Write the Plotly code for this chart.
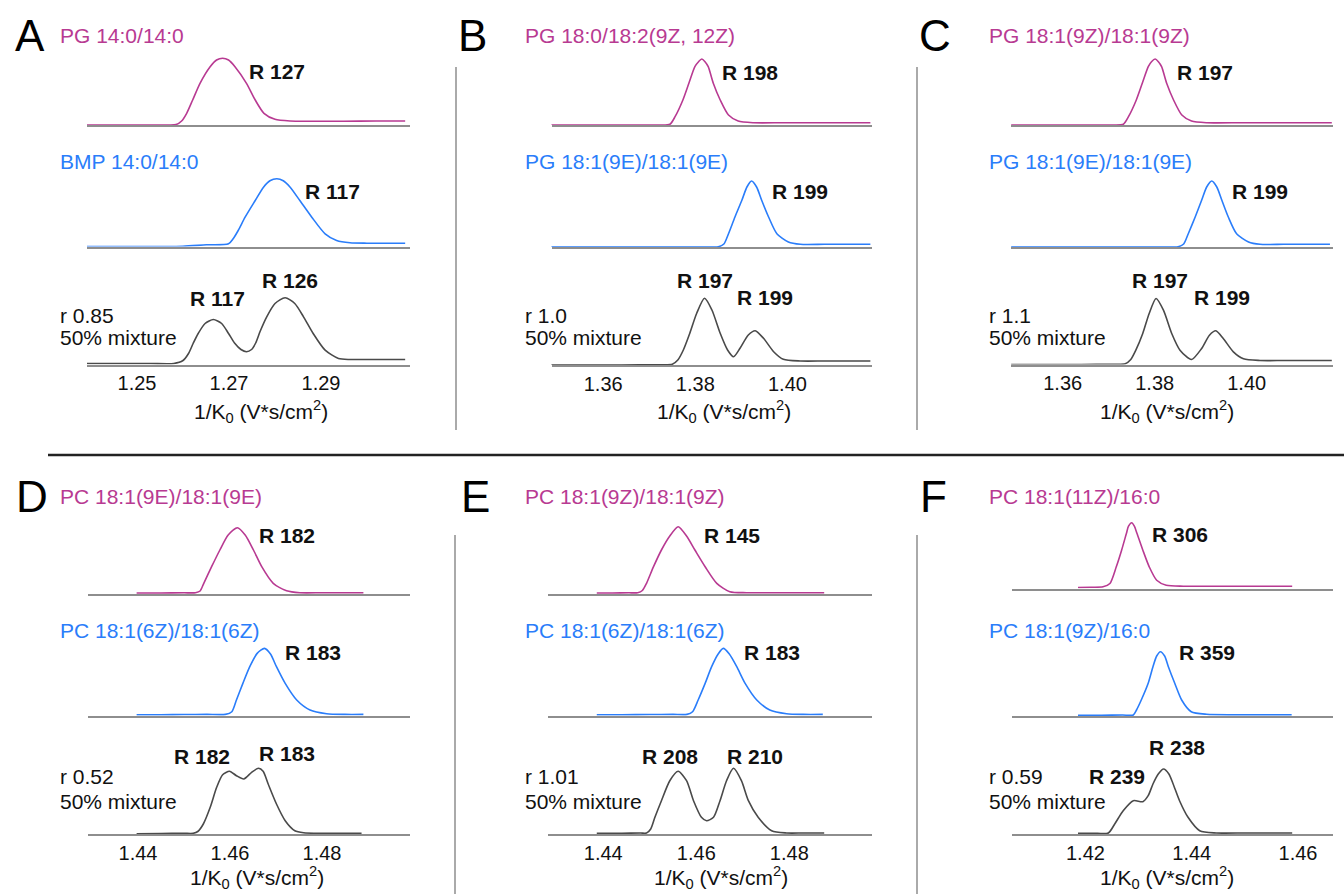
import plotly.graph_objects as go

W, H = 1344, 894

# ---------------------------------------------------------------- data
panel_letters = ["A", "B", "C", "D", "E", "F"]

top_names = ["PG 14:0/14:0", "PG 18:0/18:2(9Z, 12Z)", "PG 18:1(9Z)/18:1(9Z)",
             "PC 18:1(9E)/18:1(9E)", "PC 18:1(9Z)/18:1(9Z)", "PC 18:1(11Z)/16:0"]
mid_names = ["BMP 14:0/14:0", "PG 18:1(9E)/18:1(9E)", "PG 18:1(9E)/18:1(9E)",
             "PC 18:1(6Z)/18:1(6Z)", "PC 18:1(6Z)/18:1(6Z)", "PC 18:1(9Z)/16:0"]
r_values = ["0.85", "1.0", "1.1", "0.52", "1.01", "0.59"]

# resolving power labels: top, middle, mixture peak 1, mixture peak 2
top_R = [127, 198, 197, 182, 145, 306]
mid_R = [117, 199, 199, 183, 183, 359]
mix_R1 = [117, 197, 197, 182, 208, 239]
mix_R2 = [126, 199, 199, 183, 210, 238]

x_ranges = [[1.23913, 1.30935], [1.34878, 1.41835], [1.34876, 1.41876],
            [1.42913, 1.49913], [1.42811, 1.49778], [1.40608, 1.46658]]
tick_vals = [[1.25, 1.27, 1.29], [1.36, 1.38, 1.40], [1.36, 1.38, 1.40],
             [1.44, 1.46, 1.48], [1.44, 1.46, 1.48], [1.42, 1.44, 1.46]]
tick_text = [["1.25", "1.27", "1.29"], ["1.36", "1.38", "1.40"], ["1.36", "1.38", "1.40"],
             ["1.44", "1.46", "1.48"], ["1.44", "1.46", "1.48"], ["1.42", "1.44", "1.46"]]

# mobilograms: 1/K0 and intensity (a.u.)
A_top_x = [1.2391, 1.2450, 1.2510, 1.2570, 1.2585, 1.2597, 1.2608, 1.2621, 1.2637, 1.2659,
           1.2673, 1.2686, 1.2699, 1.2713, 1.2738, 1.2757, 1.2776, 1.2800, 1.2833, 1.2880,
           1.2950, 1.3020, 1.3083]
A_top_y = [0, 0, 0, 0, 0.5, 4, 11.7, 25, 41.7, 58.3, 65, 66.7, 65, 58.3, 41.7, 25, 11.7,
           5.7, 4, 3.8, 3.8, 4, 4]
A_mid_x = [1.2391, 1.2460, 1.2530, 1.2600, 1.2651, 1.2699, 1.2709, 1.2720, 1.2735, 1.2757,
           1.2775, 1.2789, 1.2804, 1.2818, 1.2833, 1.2854, 1.2880, 1.2909, 1.2934, 1.2963,
           1.3000, 1.3040, 1.3083]
A_mid_y = [0, 0, 0, 0.3, 1.7, 2.7, 7.7, 16, 29.3, 46, 59.3, 65.7, 67.7, 65.7, 59.3, 46,
           29.3, 12.7, 6, 3.7, 3.3, 3.3, 3.3]
A_mix_x = [1.2391, 1.2460, 1.2530, 1.2580, 1.2600, 1.2612, 1.2622, 1.2633, 1.2648, 1.2666,
           1.2684, 1.2699, 1.2712, 1.2726, 1.2738, 1.2749, 1.2758, 1.2768, 1.2782, 1.2800,
           1.2822, 1.2843, 1.2862, 1.2883, 1.2909, 1.2938, 1.2963, 1.3000, 1.3040, 1.3083]
A_mix_y = [1, 1, 1, 1, 4, 11, 21, 31, 41, 45, 41, 31, 21.5, 15, 12.7, 15, 21.5, 33.5, 47.7,
           61, 66.7, 61, 47.7, 31, 14.3, 6, 5, 5, 5, 5]

B_top_x = [1.3486, 1.3560, 1.3640, 1.3720, 1.3745, 1.3756, 1.3773, 1.3786, 1.3799, 1.3807,
           1.3814, 1.3821, 1.3828, 1.3839, 1.3854, 1.3872, 1.3893, 1.3926, 1.3990, 1.4080,
           1.4180]
B_top_y = [0, 0, 0, 0, 0.8, 8.3, 25, 41.7, 58.3, 63.3, 66, 63.3, 58.3, 41.7, 25, 10, 4,
           2.3, 2.3, 2.3, 2.3]
B_mid_x = [1.3486, 1.3560, 1.3640, 1.3720, 1.3800, 1.3850, 1.3862, 1.3872, 1.3886, 1.3901,
           1.3912, 1.3922, 1.3933, 1.3944, 1.3959, 1.3977, 1.4002, 1.4028, 1.4080, 1.4130,
           1.4180]
B_mid_y = [0, 0, 0, 0, 0, 0.3, 3, 13.3, 30, 46.7, 60, 66, 60, 46.7, 30, 13.3, 5, 2.7, 2.7,
           2.7, 2.7]
B_mix_x = [1.3486, 1.3560, 1.3640, 1.3720, 1.3750, 1.3762, 1.3774, 1.3788, 1.3803, 1.3820,
           1.3836, 1.3854, 1.3870, 1.3883, 1.3897, 1.3915, 1.3930, 1.3948, 1.3970, 1.3991,
           1.4028, 1.4080, 1.4130, 1.4180]
B_mix_y = [0, 0, 0, 0.3, 0.8, 5, 15, 31.7, 51.7, 66.7, 55, 31.7, 15, 8.3, 16.7, 30, 34.3,
           26.7, 13.3, 5.7, 4, 4, 4, 4]

C_top_x = [1.3488, 1.3560, 1.3640, 1.3710, 1.3732, 1.3743, 1.3760, 1.3773, 1.3786, 1.3793,
           1.3801, 1.3808, 1.3815, 1.3826, 1.3841, 1.3859, 1.3880, 1.3913, 1.3990, 1.4090,
           1.4185]
C_top_y = [0, 0, 0, 0, 0.8, 8.3, 25, 41.7, 58.3, 63.3, 66, 63.3, 58.3, 41.7, 25, 10, 4,
           2.3, 2.3, 2.3, 2.3]
C_mid_x = [1.3488, 1.3560, 1.3640, 1.3720, 1.3800, 1.3851, 1.3863, 1.3873, 1.3888, 1.3902,
           1.3913, 1.3924, 1.3935, 1.3946, 1.3960, 1.3978, 1.4004, 1.4029, 1.4080, 1.4130,
           1.4181]
C_mid_y = [0, 0, 0, 0, 0, 0.3, 3, 13.3, 30, 46.7, 60, 66, 60, 46.7, 30, 13.3, 5, 2.7, 2.7,
           2.7, 2.7]
C_mix_x = [1.3488, 1.3560, 1.3640, 1.3710, 1.3736, 1.3748, 1.3759, 1.3774, 1.3788, 1.3803,
           1.3819, 1.3837, 1.3855, 1.3880, 1.3902, 1.3919, 1.3933, 1.3949, 1.3971, 1.3993,
           1.4029, 1.4080, 1.4130, 1.4185]
C_mix_y = [0, 0, 0, 0.3, 0.8, 5, 14.3, 31, 51, 66, 54.3, 31, 14.3, 5, 16, 29.3, 33.7, 26,
           12.7, 5.7, 4, 4, 4, 4]

D_top_x = [1.4397, 1.4450, 1.4500, 1.4525, 1.4535, 1.4543, 1.4560, 1.4578, 1.4596, 1.4616,
           1.4633, 1.4651, 1.4669, 1.4694, 1.4723, 1.4752, 1.4800, 1.4850, 1.4890]
D_top_y = [1, 1, 1.2, 1.3, 3, 10.7, 27.3, 44, 59, 66.3, 59, 44, 27.3, 10.7, 3.3, 1.3, 1.3,
           1.3, 1.3]
D_mid_x = [1.4397, 1.4450, 1.4500, 1.4550, 1.4590, 1.4604, 1.4614, 1.4628, 1.4643, 1.4659,
           1.4675, 1.4688, 1.4701, 1.4720, 1.4745, 1.4774, 1.4810, 1.4850, 1.4890]
D_mid_y = [1, 1, 1.2, 1.3, 1.3, 4, 15.7, 32.3, 49, 62.3, 67.3, 61.7, 49, 32.3, 15.7, 5.7,
           2, 1.3, 1.3]
D_mix_x = [1.4397, 1.4450, 1.4500, 1.4520, 1.4530, 1.4542, 1.4557, 1.4571, 1.4584, 1.4599,
           1.4614, 1.4630, 1.4647, 1.4662, 1.4672, 1.4683, 1.4701, 1.4720, 1.4741, 1.4760,
           1.4800, 1.4850, 1.4886]
D_mix_y = [0.3, 0.5, 0.7, 0.7, 2.5, 10, 26.7, 46.7, 59.3, 62.7, 58.3, 55, 61.7, 65.7, 62.7,
           50, 30, 13.3, 3.3, 1.3, 0.7, 0.7, 0.7]

E_top_x = [1.4386, 1.4420, 1.4455, 1.4474, 1.4484, 1.4493, 1.4508, 1.4525, 1.4543, 1.4561,
           1.4579, 1.4597, 1.4619, 1.4644, 1.4672, 1.4708, 1.4760, 1.4820, 1.4875]
E_top_y = [1, 1, 1.2, 1.3, 3.5, 10.7, 27.3, 44, 58, 67.3, 58, 44, 27.3, 10.7, 2.3, 1.3, 1.3,
           1.3, 1.3]
E_mid_x = [1.4386, 1.4440, 1.4500, 1.4550, 1.4580, 1.4592, 1.4604, 1.4619, 1.4633, 1.4647,
           1.4658, 1.4671, 1.4687, 1.4705, 1.4730, 1.4758, 1.4794, 1.4830, 1.4872]
E_mid_y = [1, 1, 1.2, 1.3, 1.3, 4, 15.7, 32.3, 49, 61.7, 67.3, 61.7, 49, 32.3, 15.7, 5.7, 2,
           1.3, 1.3]
E_mix_x = [1.4386, 1.4440, 1.4480, 1.4493, 1.4502, 1.4511, 1.4525, 1.4543, 1.4561, 1.4579,
           1.4594, 1.4611, 1.4622, 1.4637, 1.4651, 1.4665, 1.4680, 1.4697, 1.4712, 1.4733,
           1.4762, 1.4794, 1.4830, 1.4875]
E_mix_y = [0.7, 0.8, 1, 1, 5, 16.7, 33.3, 53.3, 62.7, 53.3, 33.3, 16.7, 13.3, 16.7, 33.3,
           53.3, 65.7, 53.3, 33.3, 16.7, 3.3, 1, 1, 1]

F_top_x = [1.4186, 1.4210, 1.4233, 1.4246, 1.4258, 1.4268, 1.4277, 1.4281, 1.4287, 1.4292,
           1.4297, 1.4308, 1.4320, 1.4334, 1.4352, 1.4384, 1.4440, 1.4510, 1.4589]
F_top_y = [1, 1.3, 1.7, 5, 21.7, 38.3, 55, 62.3, 65.7, 62.3, 55, 38.3, 21.7, 8.3, 3.3, 2.3,
           2.3, 2.3, 2.3]
F_mid_x = [1.4186, 1.4230, 1.4270, 1.4290, 1.4296, 1.4305, 1.4318, 1.4327, 1.4334, 1.4341,
           1.4349, 1.4356, 1.4368, 1.4381, 1.4399, 1.4428, 1.4480, 1.4530, 1.4588]
F_mid_y = [0.7, 0.8, 1, 1, 6, 16, 32.7, 49.3, 60, 64.3, 60, 49.3, 32.7, 16, 4.3, 1.7, 1.3,
           1.3, 1.3]
F_mix_x = [1.4186, 1.4215, 1.4243, 1.4255, 1.4271, 1.4290, 1.4308, 1.4318, 1.4327, 1.4337,
           1.4347, 1.4357, 1.4365, 1.4377, 1.4393, 1.4415, 1.4446, 1.4500, 1.4550, 1.4589]
F_mix_y = [0.7, 0.8, 1, 10, 23.3, 33.3, 32.3, 38.3, 50, 60, 65, 60, 50, 33.3, 16.7, 3.3, 1,
           1, 1, 1]

curves = [
    [(A_top_x, A_top_y), (A_mid_x, A_mid_y), (A_mix_x, A_mix_y)],
    [(B_top_x, B_top_y), (B_mid_x, B_mid_y), (B_mix_x, B_mix_y)],
    [(C_top_x, C_top_y), (C_mid_x, C_mid_y), (C_mix_x, C_mix_y)],
    [(D_top_x, D_top_y), (D_mid_x, D_mid_y), (D_mix_x, D_mix_y)],
    [(E_top_x, E_top_y), (E_mid_x, E_mid_y), (E_mix_x, E_mix_y)],
    [(F_top_x, F_top_y), (F_mid_x, F_mid_y), (F_mix_x, F_mix_y)],
]

# ---------------------------------------------------------------- layout geometry (pixels)
axis_px = [(87, 410), (551.5, 872), (1011, 1333), (88, 410), (548, 872), (1011.5, 1333)]
baseline_px = [(125, 246.5, 364.5), (125, 247, 365), (125, 247, 364.5),
               (594, 715.7, 834), (594, 715.7, 834), (588.5, 716, 834)]
ROW_H = 80  # pixel height of each trace strip; intensity scale 0..80

letter_pos = [(13, 35), (456, 35), (917, 35), (14, 497), (459, 497), (918, 496)]
name_x = [58, 523, 987, 58, 523, 987]
top_name_y = [36, 36, 36, 497, 497, 497]
mid_name_y = [161, 162, 162, 630, 630, 630]
r_text_y = [315, 315, 315, 776, 776, 776]
mix_text_y = [338, 338, 338, 801, 801, 801]
top_R_pos = [(247, 71.5), (720, 72), (1175, 72), (257, 535), (702, 535), (1150, 534)]
mid_R_pos = [(303, 191), (770, 191), (1230, 191), (283, 652), (742, 652), (1177, 652)]
mix_R1_pos = [(188, 298.5), (675, 280), (1130, 280), (172, 756), (640, 756), (1087, 776)]
mix_R2_pos = [(260, 280), (735, 298), (1192, 298), (257, 753), (725, 756), (1147, 747)]
xtitle_pos = [(261, 411), (724, 411), (1167, 411), (257, 877), (721, 877), (1167, 877)]

MAGENTA = "#B83A92"
BLUE = "#2A7DFA"
DARK = "#4A4A4A"
AXIS_GRAY = "#8E8E8E"
TEXT = "#111111"
FONT = "Liberation Sans, Arial, sans-serif"
LABEL_SIZE = 21


def fx(px):
    return px / W


def fy(py):
    return 1 - py / H


fig = go.Figure()
layout_axes = {}
annotations = []


def note(text, px, py, size=LABEL_SIZE, color=TEXT, xanchor="left"):
    annotations.append(dict(
        text=text, x=fx(px), y=fy(py), xref="paper", yref="paper",
        xanchor=xanchor, yanchor="middle", showarrow=False,
        font=dict(family=FONT, size=size, color=color)))


row_colors = [MAGENTA, BLUE, DARK]
for p in range(6):
    x0, x1 = axis_px[p]
    for r in range(3):
        k = p * 3 + r + 1
        xs, ys = curves[p][r]
        fig.add_trace(go.Scatter(
            x=xs, y=ys, mode="lines",
            line=dict(color=row_colors[r], width=1.6, shape="spline", smoothing=0.7),
            xaxis=f"x{k}", yaxis=f"y{k}", showlegend=False, hoverinfo="skip"))
        base = baseline_px[p][r]
        bottom = r == 2
        layout_axes[f"xaxis{k}"] = dict(
            domain=[fx(x0), fx(x1)], anchor=f"y{k}", range=x_ranges[p],
            showgrid=False, zeroline=False, showline=True, linecolor=AXIS_GRAY,
            linewidth=1.6, ticks="", showticklabels=bottom,
            tickvals=tick_vals[p], ticktext=tick_text[p],
            tickfont=dict(family=FONT, size=20, color=TEXT), fixedrange=True)
        layout_axes[f"yaxis{k}"] = dict(
            domain=[fy(base), fy(base - ROW_H)], anchor=f"x{k}", range=[0, ROW_H],
            visible=False, fixedrange=True)

    lx, ly = letter_pos[p]
    note(panel_letters[p], lx, ly, size=44, color="#000000")
    note(top_names[p], name_x[p], top_name_y[p], color=MAGENTA)
    note(mid_names[p], name_x[p], mid_name_y[p], color=BLUE)
    note(f"r {r_values[p]}", name_x[p], r_text_y[p])
    note("50% mixture", name_x[p], mix_text_y[p])
    note(f"<b>R {top_R[p]}</b>", *top_R_pos[p])
    note(f"<b>R {mid_R[p]}</b>", *mid_R_pos[p])
    note(f"<b>R {mix_R1[p]}</b>", *mix_R1_pos[p])
    note(f"<b>R {mix_R2[p]}</b>", *mix_R2_pos[p])
    tx, ty = xtitle_pos[p]
    note("1/K<sub>0</sub> (V*s/cm<sup>2</sup>)", tx, ty, size=LABEL_SIZE, xanchor="center")

# panel separators
shapes = []
for sx, sy0, sy1 in [(456, 67, 430), (917, 67, 430), (455, 535, 894), (917, 535, 894)]:
    shapes.append(dict(type="line", xref="paper", yref="paper",
                       x0=fx(sx), x1=fx(sx), y0=fy(sy0), y1=fy(sy1),
                       line=dict(color=AXIS_GRAY, width=1.5)))
shapes.append(dict(type="line", xref="paper", yref="paper",
                   x0=fx(48), x1=1, y0=fy(455), y1=fy(455),
                   line=dict(color="#222222", width=2.5)))

fig.update_layout(
    width=W, height=H, margin=dict(l=0, r=0, t=0, b=0),
    paper_bgcolor="white", plot_bgcolor="rgba(0,0,0,0)",
    showlegend=False, annotations=annotations, shapes=shapes,
    font=dict(family=FONT, color=TEXT),
    **layout_axes)

fig.write_html("out.html", config={"displayModeBar": False})
